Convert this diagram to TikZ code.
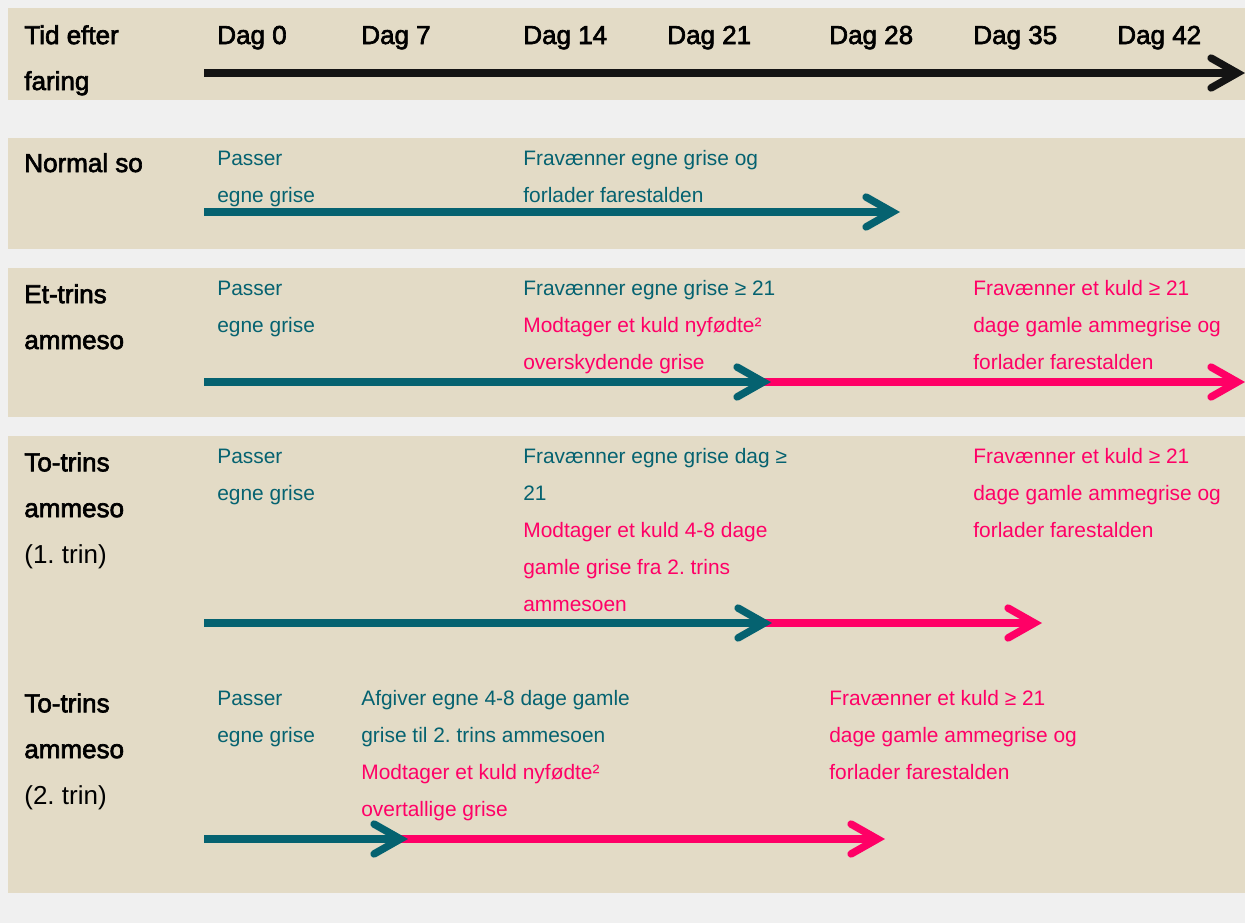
\documentclass[tikz,border=0pt]{standalone}
\usepackage{fontspec}
\setmainfont{Liberation Sans}
\newfontfamily\headfont{Liberation Sans}[FakeBold=2.5]
\usetikzlibrary{arrows.meta}
\definecolor{page}{RGB}{240,240,240}
\definecolor{sand}{RGB}{227,219,198}
\definecolor{petrol}{RGB}{5,98,112}
\definecolor{rose}{RGB}{255,0,102}
\definecolor{ink}{RGB}{20,20,20}
\frenchspacing

\begin{document}
\begin{tikzpicture}[x=0.02cm,y=-0.02cm,
  head/.style={font=\headfont\fontsize{14.8}{26.1}\selectfont,text=black,anchor=base west,inner sep=0pt,align=left},
  note/.style={font=\fontsize{11.9}{20.98}\selectfont,anchor=base west,inner sep=0pt,align=left},
  own/.style={note,text=petrol},
  nurse/.style={note,text=rose},
  timeline/.style={line width=4.25pt,-{Straight Barb[length=15pt,width=17pt,line cap=round,line join=miter]}}]
\useasboundingbox (0,0) rectangle (1245,923);
\fill[page] (0,0) rectangle (1245,923);
\fill[sand] (8,8) rectangle (1245,100);
\fill[sand] (8,138) rectangle (1245,249);
\fill[sand] (8,268) rectangle (1245,417);
\fill[sand] (8,436) rectangle (1245,893);

% multi-line nodes sit on the baseline of their last line
\node[head] (tid) at (24,90) {Tid efter\\faring};
\node[head] (d0) at (217,44) {Dag 0};
\node[head] (d7) at (361,44) {Dag 7};
\node[head] (d14) at (523,44) {Dag 14};
\node[head] (d21) at (667,44) {Dag 21};
\node[head] (d28) at (829,44) {Dag 28};
\node[head] (d35) at (973,44) {Dag 35};
\node[head] (d42) at (1117,44) {Dag 42};
\coordinate (t0) at (204,73);
\coordinate (t1) at (1245,73);
\draw[timeline,ink] (t0) -- (t1);

\node[head] (normal) at (24,172) {Normal so};
\node[own] (n1) at (217,202) {Passer\\egne grise};
\node[own] (n2) at (523,202) {Fravænner egne grise og\\forlader farestalden};
\coordinate (n0) at (204,212);
\coordinate (nend) at (900,212);
\draw[timeline,petrol] (n0) -- (nend);

\node[head] (et) at (24,349) {Et-trins\\ammeso};
\node[own] (e1) at (217,332) {Passer\\egne grise};
\node[own] (e2) at (523,295) {Fravænner egne grise ≥ 21};
\node[nurse] (e3) at (523,369) {Modtager et kuld nyfødte²\\overskydende grise};
\node[nurse] (e4) at (973,369) {Fravænner et kuld ≥ 21\\dage gamle ammegrise og\\forlader farestalden};
\coordinate (e0) at (204,382);
\coordinate (eswap) at (771,382);
\coordinate (eunder) at (720,382);
\coordinate (eend) at (1245,382);
\draw[timeline,rose] (eunder) -- (eend);
\draw[timeline,petrol] (e0) -- (eswap);

\node[head] (tof) at (24,563) {To-trins\\ammeso\\{\rmfamily(1. trin)}};
\node[own] (f1) at (217,500) {Passer\\egne grise};
\node[own] (f2) at (523,500) {Fravænner egne grise dag ≥\\21};
\node[nurse] (f3) at (523,611) {Modtager et kuld 4-8 dage\\gamle grise fra 2. trins\\ammesoen};
\node[nurse] (f4) at (973,537) {Fravænner et kuld ≥ 21\\dage gamle ammegrise og\\forlader farestalden};
\coordinate (f0) at (204,623);
\coordinate (fswap) at (772,623);
\coordinate (funder) at (720,623);
\coordinate (fend) at (1042,623);
\draw[timeline,rose] (funder) -- (fend);
\draw[timeline,petrol] (f0) -- (fswap);

\node[head] (tos) at (24,804) {To-trins\\ammeso\\{\rmfamily(2. trin)}};
\node[own] (s1) at (217,742) {Passer\\egne grise};
\node[own] (s2) at (361,742) {Afgiver egne 4-8 dage gamle\\grise til 2. trins ammesoen};
\node[nurse] (s3) at (361,816) {Modtager et kuld nyfødte²\\overtallige grise};
\node[nurse] (s4) at (829,779) {Fravænner et kuld ≥ 21\\dage gamle ammegrise og\\forlader farestalden};
\coordinate (s0) at (204,839);
\coordinate (sswap) at (408,839);
\coordinate (sunder) at (357,839);
\coordinate (send) at (885,839);
\draw[timeline,rose] (sunder) -- (send);
\draw[timeline,petrol] (s0) -- (sswap);
\end{tikzpicture}
\end{document}
